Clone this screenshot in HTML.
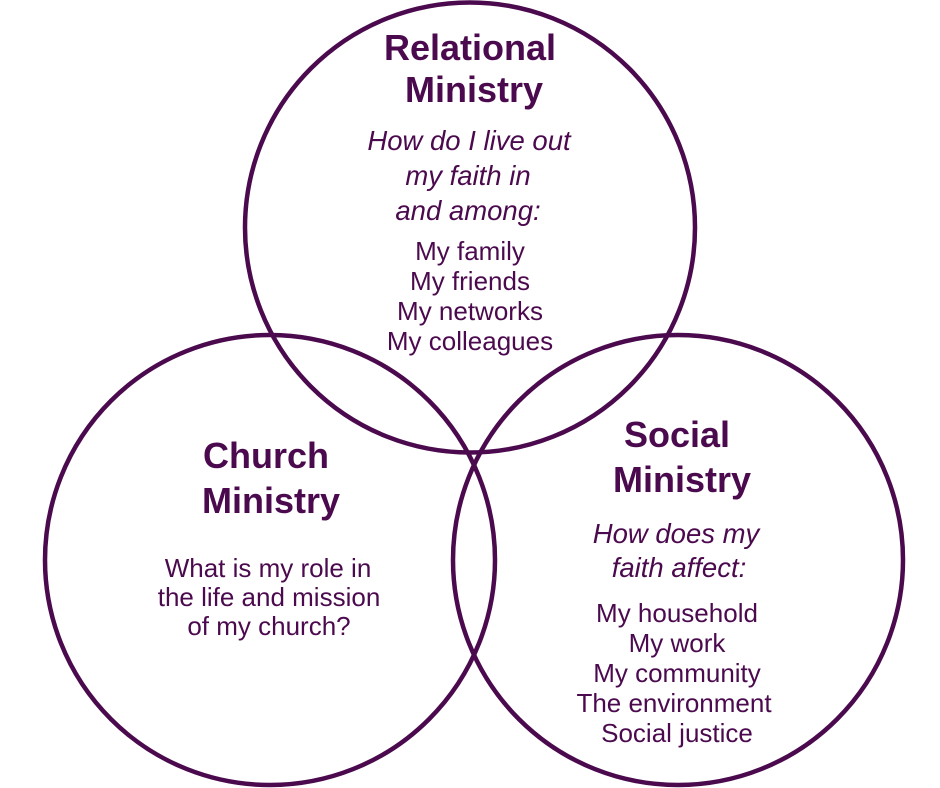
<!DOCTYPE html>
<html>
<head>
<meta charset="utf-8">
<style>
  html, body { margin: 0; padding: 0; background: #ffffff; }
  body { width: 940px; height: 788px; overflow: hidden; }
  svg { display: block; }
  text { font-family: "Liberation Sans", "DejaVu Sans", sans-serif; fill: #4b0a4e; text-anchor: middle; }
  .h { font-weight: bold; font-size: 36px; }
  .i { font-style: italic; font-size: 27.5px; }
  .r { font-size: 26px; }
</style>
</head>
<body>
<svg width="940" height="788" viewBox="0 0 940 788" xmlns="http://www.w3.org/2000/svg">
  <g fill="none" stroke="#4b0a4e" stroke-width="4.5">
    <circle cx="470" cy="227.5" r="225"/>
    <circle cx="270" cy="560" r="225"/>
    <circle cx="678" cy="560" r="225"/>
  </g>

  <!-- Relational Ministry -->
  <text class="h" x="470" y="60">Relational</text>
  <text class="h" x="474" y="102">Ministry</text>
  <text class="i" x="469" y="150">How do I live out</text>
  <text class="i" x="468" y="185">my faith in</text>
  <text class="i" x="468" y="220">and among:</text>
  <text class="r" x="470" y="260">My family</text>
  <text class="r" x="470" y="290">My friends</text>
  <text class="r" x="470" y="320">My networks</text>
  <text class="r" x="470" y="350">My colleagues</text>

  <!-- Church Ministry -->
  <text class="h" x="266" y="468">Church</text>
  <text class="h" x="271" y="513">Ministry</text>
  <text class="r" x="268" y="577">What is my role in</text>
  <text class="r" x="269" y="606">the life and mission</text>
  <text class="r" x="269" y="635">of my church?</text>

  <!-- Social Ministry -->
  <text class="h" x="677" y="447">Social</text>
  <text class="h" x="682" y="492">Ministry</text>
  <text class="i" x="676" y="543">How does my</text>
  <text class="i" x="679" y="577">faith affect:</text>
  <text class="r" x="677" y="622">My household</text>
  <text class="r" x="677" y="652">My work</text>
  <text class="r" x="677" y="682">My community</text>
  <text class="r" x="674" y="712">The environment</text>
  <text class="r" x="677" y="742">Social justice</text>
</svg>
</body>
</html>
